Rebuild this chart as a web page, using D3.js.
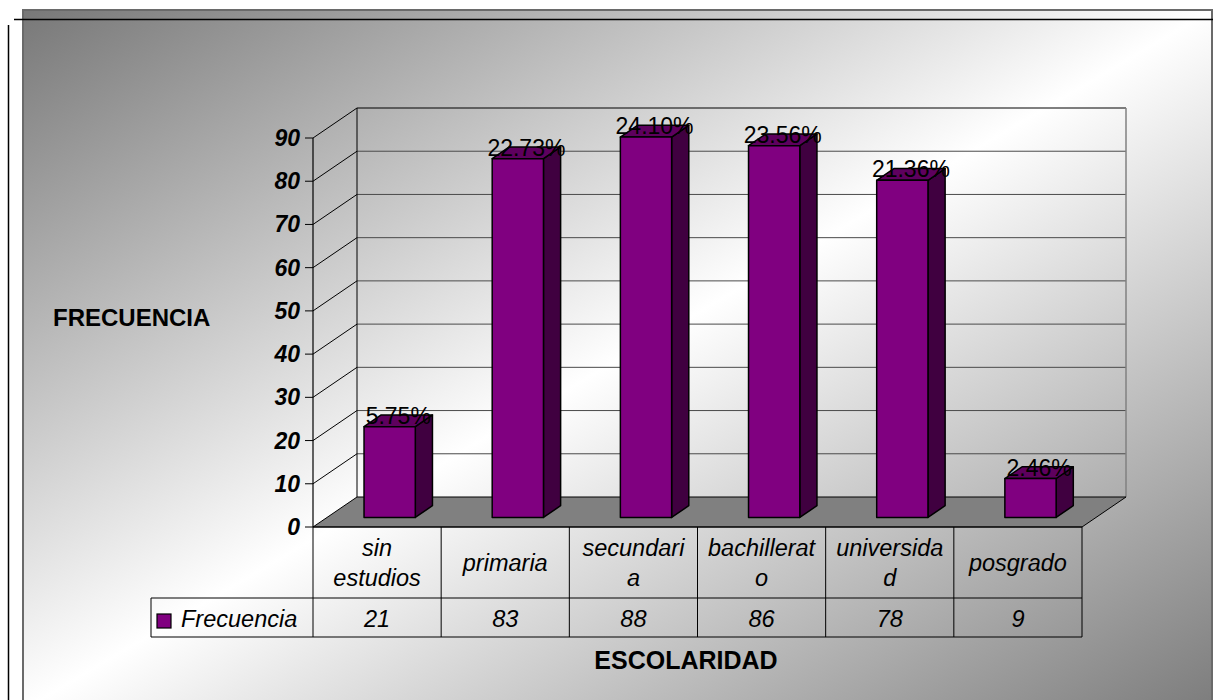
<!DOCTYPE html>
<html>
<head>
<meta charset="utf-8">
<script src="https://cdn.jsdelivr.net/npm/d3@7"></script>
<style>
  html, body { margin: 0; padding: 0; background: #ffffff; }
  svg { display: block; }
  text { font-family: "Liberation Sans", Arial, sans-serif; fill: #000; }
</style>
</head>
<body>
<svg id="chart" width="1213" height="700"></svg>
<script>
// Frecuencia por escolaridad
const categories = ["sin estudios", "primaria", "secundaria", "bachillerato", "universidad", "posgrado"];
const categoryLines = [["sin", "estudios"], ["primaria"], ["secundari", "a"], ["bachillerat", "o"], ["universida", "d"], ["posgrado"]];
const frecuencia = [21, 83, 88, 86, 78, 9];
const percentLabels = ["5.75%", "22.73%", "24.10%", "23.56%", "21.36%", "2.46%"];
const yTicks = [0, 10, 20, 30, 40, 50, 60, 70, 80, 90];
const seriesName = "Frecuencia";
const yTitle = "FRECUENCIA";
const xTitle = "ESCOLARIDAD";

const svg = d3.select("#chart");
const W = 1213, H = 700;

// background gradient: dark corners top-left / bottom-right, light across the anti-diagonal
const defs = svg.append("defs");
const grad = defs.append("linearGradient")
  .attr("id", "bg").attr("x1", 0).attr("y1", 0).attr("x2", 1).attr("y2", 1);
grad.append("stop").attr("offset", "0%").attr("stop-color", "#787878");
grad.append("stop").attr("offset", "50%").attr("stop-color", "#ffffff");
grad.append("stop").attr("offset", "100%").attr("stop-color", "#7c7c7c");

svg.append("rect")
  .attr("x", 23).attr("y", 10).attr("width", 1189).attr("height", 700)
  .attr("fill", "url(#bg)").attr("stroke", "#6a6a6a").attr("stroke-width", 2);

// outer rules
svg.append("line").attr("x1", 14).attr("x2", W).attr("y1", 19.5).attr("y2", 19.5)
  .attr("stroke", "#000").attr("stroke-width", 1.5);
svg.append("line").attr("x1", 8.5).attr("x2", 8.5).attr("y1", 25).attr("y2", H)
  .attr("stroke", "#000").attr("stroke-width", 1.5);

// 3D projection: front plane scales plus a depth offset
const x = d3.scaleBand().domain(categories).range([313, 1082]).padding(0);
const y = d3.scaleLinear().domain([0, 90]).range([527, 138]);
const DX = 44, DY = -30;             // full depth offset
const f1 = 0.32, f2 = 0.71;          // bar front / back depth
const barW = x.bandwidth() * 0.4;

const xLeft = x.range()[0], xRight = x.range()[1];
const g = svg.append("g");

// back wall grid lines
g.selectAll(".grid").data(yTicks.filter(d => d > 0)).join("line")
  .attr("x1", xLeft + DX).attr("x2", xRight + DX)
  .attr("y1", d => y(d) + DY).attr("y2", d => y(d) + DY)
  .attr("stroke", d => d === 90 ? "#000" : "#4a4a4a").attr("stroke-width", 1);

// side wall diagonals
g.selectAll(".diag").data(yTicks.filter(d => d > 0)).join("line")
  .attr("x1", xLeft).attr("y1", d => y(d))
  .attr("x2", xLeft + DX).attr("y2", d => y(d) + DY)
  .attr("stroke", "#000").attr("stroke-width", 1);

// wall edges
g.append("line").attr("x1", xLeft + DX).attr("x2", xLeft + DX)
  .attr("y1", y(90) + DY).attr("y2", y(0) + DY).attr("stroke", "#000");
g.append("line").attr("x1", xRight + DX).attr("x2", xRight + DX)
  .attr("y1", y(90) + DY).attr("y2", y(0) + DY).attr("stroke", "#808080").attr("stroke-width", 1.5);

// floor
g.append("path")
  .attr("d", `M${xLeft},${y(0)} L${xLeft + DX},${y(0) + DY} L${xRight + DX},${y(0) + DY} L${xRight},${y(0)} Z`)
  .attr("fill", "#808080").attr("stroke", "#000").attr("stroke-width", 1);

// value axis
g.append("line").attr("x1", xLeft).attr("x2", xLeft)
  .attr("y1", y(90)).attr("y2", y(0)).attr("stroke", "#000").attr("stroke-width", 1.2);
g.selectAll(".tick").data(yTicks).join("line")
  .attr("x1", xLeft - 8).attr("x2", xLeft)
  .attr("y1", d => y(d)).attr("y2", d => y(d))
  .attr("stroke", "#000");
g.selectAll(".tickLabel").data(yTicks).join("text")
  .attr("x", xLeft - 13).attr("y", d => y(d) + 8)
  .attr("text-anchor", "end")
  .style("font-size", "23px").style("font-weight", "bold").style("font-style", "italic")
  .text(d => d);

// bars
const bars = categories.map((c, i) => {
  const cx = x(c) + x.bandwidth() / 2 - 1.5;
  const x0 = cx - barW / 2, x1 = cx + barW / 2;
  const v = frecuencia[i];
  return { c, i, v, x0, x1 };
});
const P = (px, v, f) => [px + DX * f, y(v) + DY * f];
const poly = pts => "M" + pts.map(p => p.join(",")).join("L") + "Z";

const barG = g.append("g");
bars.forEach(b => {
  const top = [P(b.x0, b.v, f1), P(b.x1, b.v, f1), P(b.x1, b.v, f2), P(b.x0, b.v, f2)];
  const side = [P(b.x1, 0, f1), P(b.x1, b.v, f1), P(b.x1, b.v, f2), P(b.x1, 0, f2)];
  const front = [P(b.x0, 0, f1), P(b.x1, 0, f1), P(b.x1, b.v, f1), P(b.x0, b.v, f1)];
  barG.append("path").attr("d", poly(side)).attr("fill", "#400040")
    .attr("stroke", "#000").attr("stroke-width", 1.5).attr("stroke-linejoin", "round");
  barG.append("path").attr("d", poly(top)).attr("fill", "#5e005e")
    .attr("stroke", "#000").attr("stroke-width", 1.5).attr("stroke-linejoin", "round");
  barG.append("path").attr("d", poly(front)).attr("fill", "#800080")
    .attr("stroke", "#000").attr("stroke-width", 1.5).attr("stroke-linejoin", "round");
});

// percentage labels
barG.selectAll(".pct").data(bars).join("text")
  .attr("x", b => (b.x0 + b.x1) / 2 + DX * (f1 + f2) / 2)
  .attr("y", b => y(b.v) + DY * f1 - 3)
  .attr("text-anchor", "middle")
  .style("font-size", "23px")
  .text(b => percentLabels[b.i]);

// data table
const rowTop = 527, rowMid = 598, rowBot = 637, legendLeft = 151;
const tbl = svg.append("g");
const line = (x1, y1, x2, y2) => tbl.append("line")
  .attr("x1", x1).attr("y1", y1).attr("x2", x2).attr("y2", y2)
  .attr("stroke", "#000").attr("stroke-width", 1);

line(xLeft, rowTop, xRight, rowTop);
line(legendLeft, rowMid, xRight, rowMid);
line(legendLeft, rowBot, xRight, rowBot);
line(legendLeft, rowMid, legendLeft, rowBot);
categories.forEach(c => line(x(c), rowTop, x(c), rowBot));
line(xRight, rowTop, xRight, rowBot);

tbl.selectAll(".cat").data(categories).join("text")
  .attr("text-anchor", "middle")
  .style("font-size", "23.5px").style("font-style", "italic")
  .each(function (c, i) {
    const lines = categoryLines[i];
    const cx = x(c) + x.bandwidth() / 2;
    const mid = (rowTop + rowMid) / 2;
    const lh = 30;
    lines.forEach((t, k) => {
      d3.select(this).append("tspan")
        .attr("x", cx)
        .attr("y", mid + 8 + (k - (lines.length - 1) / 2) * lh)
        .text(t);
    });
  });

tbl.selectAll(".val").data(categories).join("text")
  .attr("x", c => x(c) + x.bandwidth() / 2)
  .attr("y", rowBot - 10)
  .attr("text-anchor", "middle")
  .style("font-size", "23.5px").style("font-style", "italic")
  .text((c, i) => frecuencia[i]);

// legend key
tbl.append("rect").attr("x", 157).attr("y", 614).attr("width", 14).attr("height", 14)
  .attr("fill", "#800080").attr("stroke", "#000").attr("stroke-width", 1.2);
tbl.append("text").attr("x", 181).attr("y", rowBot - 10)
  .style("font-size", "23.5px").style("font-style", "italic")
  .text(seriesName);

// axis titles
svg.append("text").attr("x", 53).attr("y", 326)
  .style("font-size", "24px").style("font-weight", "bold")
  .text(yTitle);
svg.append("text").attr("x", 686).attr("y", 669)
  .attr("text-anchor", "middle")
  .style("font-size", "25px").style("font-weight", "bold")
  .text(xTitle);
</script>
</body>
</html>
